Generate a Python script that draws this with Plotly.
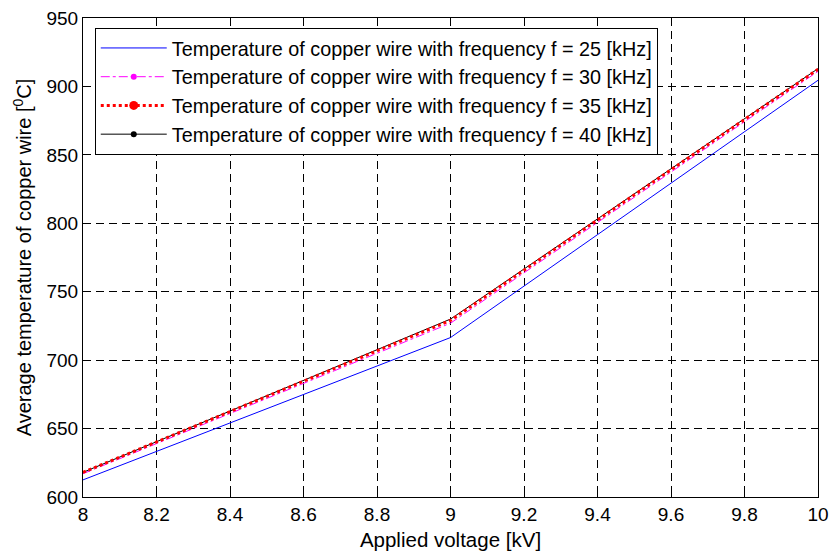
import plotly.graph_objects as go

# Applied voltage [kV]
voltage = [8, 9, 10]

# Average copper wire temperature [0C] for each excitation frequency
temp_f25 = [612.5, 716.5, 904.5]
temp_f30 = [617.0, 727.0, 911.0]
temp_f35 = [618.0, 729.0, 912.5]
temp_f40 = [618.0, 730.0, 913.0]

labels = [
    "Temperature of copper wire with frequency f = 25 [kHz]",
    "Temperature of copper wire with frequency f = 30 [kHz]",
    "Temperature of copper wire with frequency f = 35 [kHz]",
    "Temperature of copper wire with frequency f = 40 [kHz]",
]

x_ticks = [8, 8.2, 8.4, 8.6, 8.8, 9, 9.2, 9.4, 9.6, 9.8, 10]
x_ticktext = ["8", "8.2", "8.4", "8.6", "8.8", "9", "9.2", "9.4", "9.6", "9.8", "10"]
y_ticks = [600, 650, 700, 750, 800, 850, 900, 950]

FONT = "Liberation Sans, Arial, sans-serif"

# line / marker styles for each curve
styles = [
    dict(line=dict(color="#0000ff", width=1), mode="lines", msize=0),
    dict(line=dict(color="#ff00ff", width=1, dash="dashdot"), mode="lines+markers", msize=6),
    dict(line=dict(color="#ff0000", width=3, dash="dot"), mode="lines+markers", msize=9),
    dict(line=dict(color="#000000", width=1), mode="lines+markers", msize=6),
]
series = [temp_f25, temp_f30, temp_f35, temp_f40]

fig = go.Figure()

# curves (drawn in order 25, 30, 40, then the dotted 35 kHz curve on top)
for idx in [0, 1, 3, 2]:
    st = styles[idx]
    fig.add_trace(go.Scatter(
        x=voltage, y=series[idx], name=labels[idx], mode="lines",
        line=st["line"], showlegend=False, hoverinfo="x+y+name",
    ))

# legend entries
for idx in range(4):
    st = styles[idx]
    fig.add_trace(go.Scatter(
        x=[None], y=[None], name=labels[idx], mode=st["mode"],
        line=st["line"],
        marker=dict(color=st["line"]["color"], size=max(st["msize"], 1)),
    ))

axis_common = dict(
    showline=True, linecolor="black", linewidth=1, mirror="ticks",
    ticks="inside", ticklen=6, tickcolor="black",
    showgrid=True, gridcolor="black", gridwidth=1, griddash="8px,5px",
    zeroline=False, automargin=False,
    tickfont=dict(family=FONT, size=19, color="black"),
)

fig.update_xaxes(
    range=[8, 10], tickvals=x_ticks, ticktext=x_ticktext,
    title=dict(text="Applied voltage [kV]", font=dict(family=FONT, size=20.5, color="black"), standoff=9),
    **axis_common,
)
fig.update_yaxes(
    range=[600, 950], tickvals=y_ticks,
    title=dict(text="Average temperature of copper wire [<sup>0</sup>C]",
               font=dict(family=FONT, size=20, color="black"), standoff=9),
    **axis_common,
)

fig.update_layout(
    template="none",
    width=830, height=551,
    margin=dict(l=83, r=12, t=18, b=54, pad=0),
    paper_bgcolor="white", plot_bgcolor="white",
    font=dict(family=FONT, size=19, color="black"),
    legend=dict(
        x=0.016, y=0.98, xanchor="left", yanchor="top",
        bgcolor="white", bordercolor="black", borderwidth=1,
        font=dict(family=FONT, size=19.8, color="black"),
        itemwidth=66, tracegroupgap=0,
    ),
    showlegend=True,
)

fig.write_html("out.html")
